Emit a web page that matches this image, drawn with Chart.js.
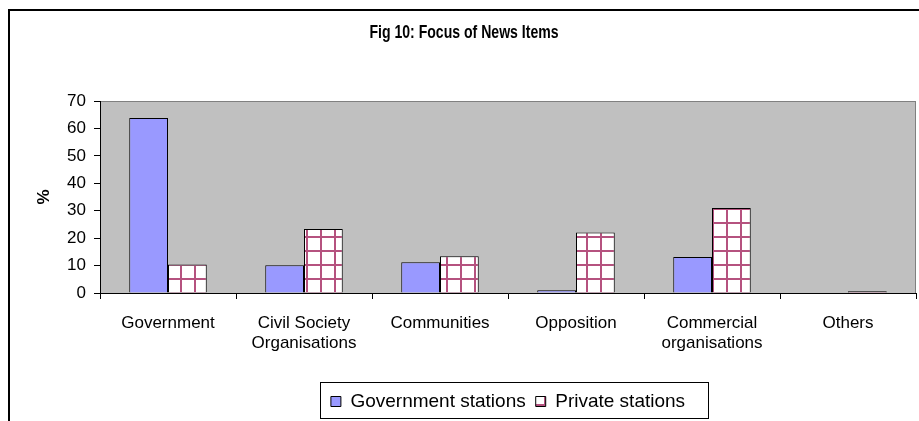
<!DOCTYPE html>
<html>
<head>
<meta charset="utf-8">
<script src="https://cdn.jsdelivr.net/npm/chart.js@4.4.1/dist/chart.umd.min.js"></script>
<style>
  html, body { margin: 0; padding: 0; background: #fff; }
</style>
</head>
<body>
<canvas id="focusChart" width="919" height="421"></canvas>
<script>
const categories = ['Government', ['Civil Society', 'Organisations'], 'Communities', 'Opposition', ['Commercial', 'organisations'], 'Others'];
const governmentStations = [63.8, 10.1, 11.2, 1.0, 13.1, 0];
const privateStations = [10.4, 23.3, 13.4, 22.1, 31.0, 0.6];
const yMin = 0;
const yMax = 70;
const yStep = 10;
const chartTitle = 'Fig 10: Focus of News Items';

const fontFamily = "'Liberation Sans', Arial, sans-serif";

// white tile with a plum grid, like the Excel "large grid" fill
function gridPattern() {
    const c = document.createElement('canvas');
    c.width = 14;
    c.height = 14;
    const g = c.getContext('2d');
    g.fillStyle = '#ffffff';
    g.fillRect(0, 0, 14, 14);
    g.fillStyle = '#b5527f';
    g.fillRect(12, 0, 2, 14);
    g.fillRect(0, 12, 14, 2);
    return g.createPattern(c, 'repeat');
}

const frame = {
    id: 'frame',
    beforeDraw(chart) {
        const ctx = chart.ctx;
        const a = chart.chartArea;
        ctx.save();
        ctx.fillStyle = '#fff';
        ctx.fillRect(0, 0, chart.width, chart.height);
        ctx.strokeStyle = '#000';
        ctx.lineWidth = 2;
        ctx.beginPath();
        ctx.moveTo(9, chart.height);
        ctx.lineTo(9, 10);
        ctx.lineTo(chart.width, 10);
        ctx.stroke();
        ctx.fillStyle = '#c0c0c0';
        ctx.fillRect(a.left, a.top, a.width, a.height);
        ctx.strokeStyle = '#808080';
        ctx.lineWidth = 1;
        ctx.strokeRect(a.left + 0.5, a.top + 0.5, a.width - 1, a.height);
        ctx.restore();
    },
    afterDraw(chart) {
        const ctx = chart.ctx;
        // title: narrow bold face, squeezed horizontally
        ctx.save();
        ctx.font = "bold 19px " + fontFamily;
        ctx.fillStyle = '#000';
        ctx.textAlign = 'center';
        ctx.textBaseline = 'middle';
        ctx.translate((9 + chart.width) / 2, 33);
        ctx.scale(0.74, 1);
        ctx.fillText(chartTitle, 0, 0);
        ctx.restore();

        // legend frame
        const boxes = chart.legend.legendHitBoxes;
        if (!boxes || !boxes.length) return;
        let l = Infinity, r = -Infinity, t = Infinity, b = -Infinity;
        boxes.forEach(h => {
            l = Math.min(l, h.left);
            r = Math.max(r, h.left + h.width);
            t = Math.min(t, h.top);
            b = Math.max(b, h.top + h.height);
        });
        ctx.save();
        ctx.strokeStyle = '#000';
        ctx.lineWidth = 1;
        ctx.strokeRect(Math.round(l - 11) + 0.5, Math.round(t - 10) + 0.5, Math.round(r - l + 34), Math.round(b - t + 17));
        ctx.restore();
    }
};

new Chart(document.getElementById('focusChart'), {
    type: 'bar',
    data: {
        labels: categories,
        datasets: [{
            label: 'Government stations',
            data: governmentStations,
            backgroundColor: '#9999ff',
            borderColor: '#000',
            borderWidth: 1,
            categoryPercentage: 0.57,
            barPercentage: 1
        }, {
            label: 'Private stations',
            data: privateStations,
            backgroundColor: gridPattern(),
            borderColor: '#000',
            borderWidth: 1,
            categoryPercentage: 0.57,
            barPercentage: 1
        }]
    },
    options: {
        responsive: false,
        animation: false,
        layout: { padding: { top: 101, left: 12, right: 3, bottom: 0 } },
        plugins: {
            title: { display: false },
            legend: {
                position: 'bottom',
                fullSize: false,
                labels: {
                    color: '#000',
                    font: { family: fontFamily, size: 19 },
                    boxWidth: 10,
                    boxHeight: 10,
                    padding: 10
                }
            },
            tooltip: { enabled: false }
        },
        scales: {
            x: {
                grid: { drawOnChartArea: false, drawTicks: true, tickLength: 6, color: '#000' },
                border: { color: '#000' },
                ticks: { color: '#000', font: { family: fontFamily, size: 17 }, padding: 14, maxRotation: 0 },
                afterFit(scale) { scale.height = 89; }
            },
            y: {
                min: yMin,
                max: yMax,
                grid: { drawOnChartArea: false, drawTicks: true, tickLength: 6, color: '#000' },
                border: { color: '#000' },
                ticks: { stepSize: yStep, color: '#000', font: { family: fontFamily, size: 17 }, padding: 8 },
                title: {
                    display: true,
                    text: '%',
                    color: '#000',
                    font: { family: fontFamily, size: 17, weight: 'bold' },
                    padding: { top: 22, bottom: 0 }
                },
                afterFit(scale) { scale.width = 88; }
            }
        }
    },
    plugins: [frame]
});
</script>
</body>
</html>
